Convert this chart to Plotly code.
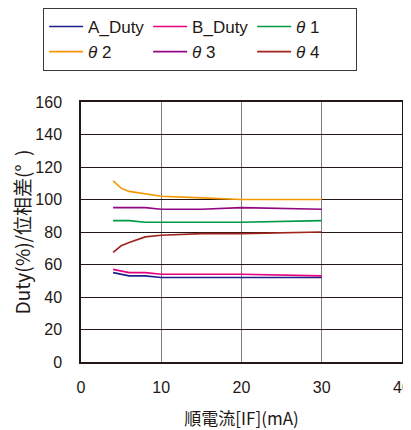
import plotly.graph_objects as go

x_if = [4, 5, 6, 8, 10, 15, 20, 30]
a_duty = [55, 54, 53, 53, 52, 52, 52, 52]
b_duty = [57, 56, 55, 55, 54, 54, 54, 53]
theta1 = [87, 87, 87, 86, 86, 86, 86, 87]
theta2 = [111.5, 107, 105, 103.3, 102, 101, 100, 100]
theta3 = [95, 95, 95, 95, 94, 94, 95, 94]
theta4 = [67.5, 71.5, 73.5, 77, 78, 79, 79, 80]

series = [
    ("A_Duty", a_duty, "#1d2088"),
    ("B_Duty", b_duty, "#e4007f"),
    ("<i>θ</i> 1", theta1, "#009944"),
    ("<i>θ</i> 2", theta2, "#f39800"),
    ("<i>θ</i> 3", theta3, "#920783"),
    ("<i>θ</i> 4", theta4, "#a0241c"),
]

x_ticks = [0, 10, 20, 30, 40]
y_ticks = [0, 20, 40, 60, 80, 100, 120, 140, 160]

fig = go.Figure()
for name, vals, col in series:
    fig.add_trace(go.Scatter(x=x_if, y=vals, name=name, mode="lines",
                             line=dict(color=col, width=1.6)))

font_main = "Liberation Sans, Noto Sans CJK JP, sans-serif"
fig.update_layout(
    width=403, height=422,
    margin=dict(l=73, r=9, t=94, b=68, autoexpand=False),
    paper_bgcolor="white", plot_bgcolor="white",
    font=dict(family=font_main, size=16, color="#231815"),
    showlegend=True,
    legend=dict(orientation="h", x=-0.118, y=1.3615, xanchor="left", yanchor="top",
                bordercolor="#3e3a39", borderwidth=1, bgcolor="white",
                entrywidth=55, entrywidthmode="pixels",
                font=dict(size=17, family=font_main), tracegroupgap=0,
                itemwidth=34),
    xaxis=dict(range=[0, 40], tickvals=x_ticks, showgrid=True, gridcolor="#7d7d7d",
               gridwidth=1.2, showline=True, linecolor="#231815", linewidth=1.5,
               mirror=True, ticks="", zeroline=False, tickfont=dict(size=16),
               ticklabelstandoff=10,
               title=dict(text="順電流[IF](mA)", standoff=27,
                          font=dict(size=17, family="Noto Sans CJK JP, sans-serif"))),
    yaxis=dict(range=[0, 160], tickvals=y_ticks, showgrid=True, gridcolor="#231815",
               gridwidth=1.2, showline=True, linecolor="#231815", linewidth=1.5,
               mirror=True, ticks="", zeroline=False, ticklabelstandoff=14,
               tickfont=dict(size=16),
               title=dict(text="Duty(%)/位相差(°  )", standoff=1,
                          font=dict(size=19, family="Noto Sans CJK JP, sans-serif"))),
)

fig.write_html("out.html")
